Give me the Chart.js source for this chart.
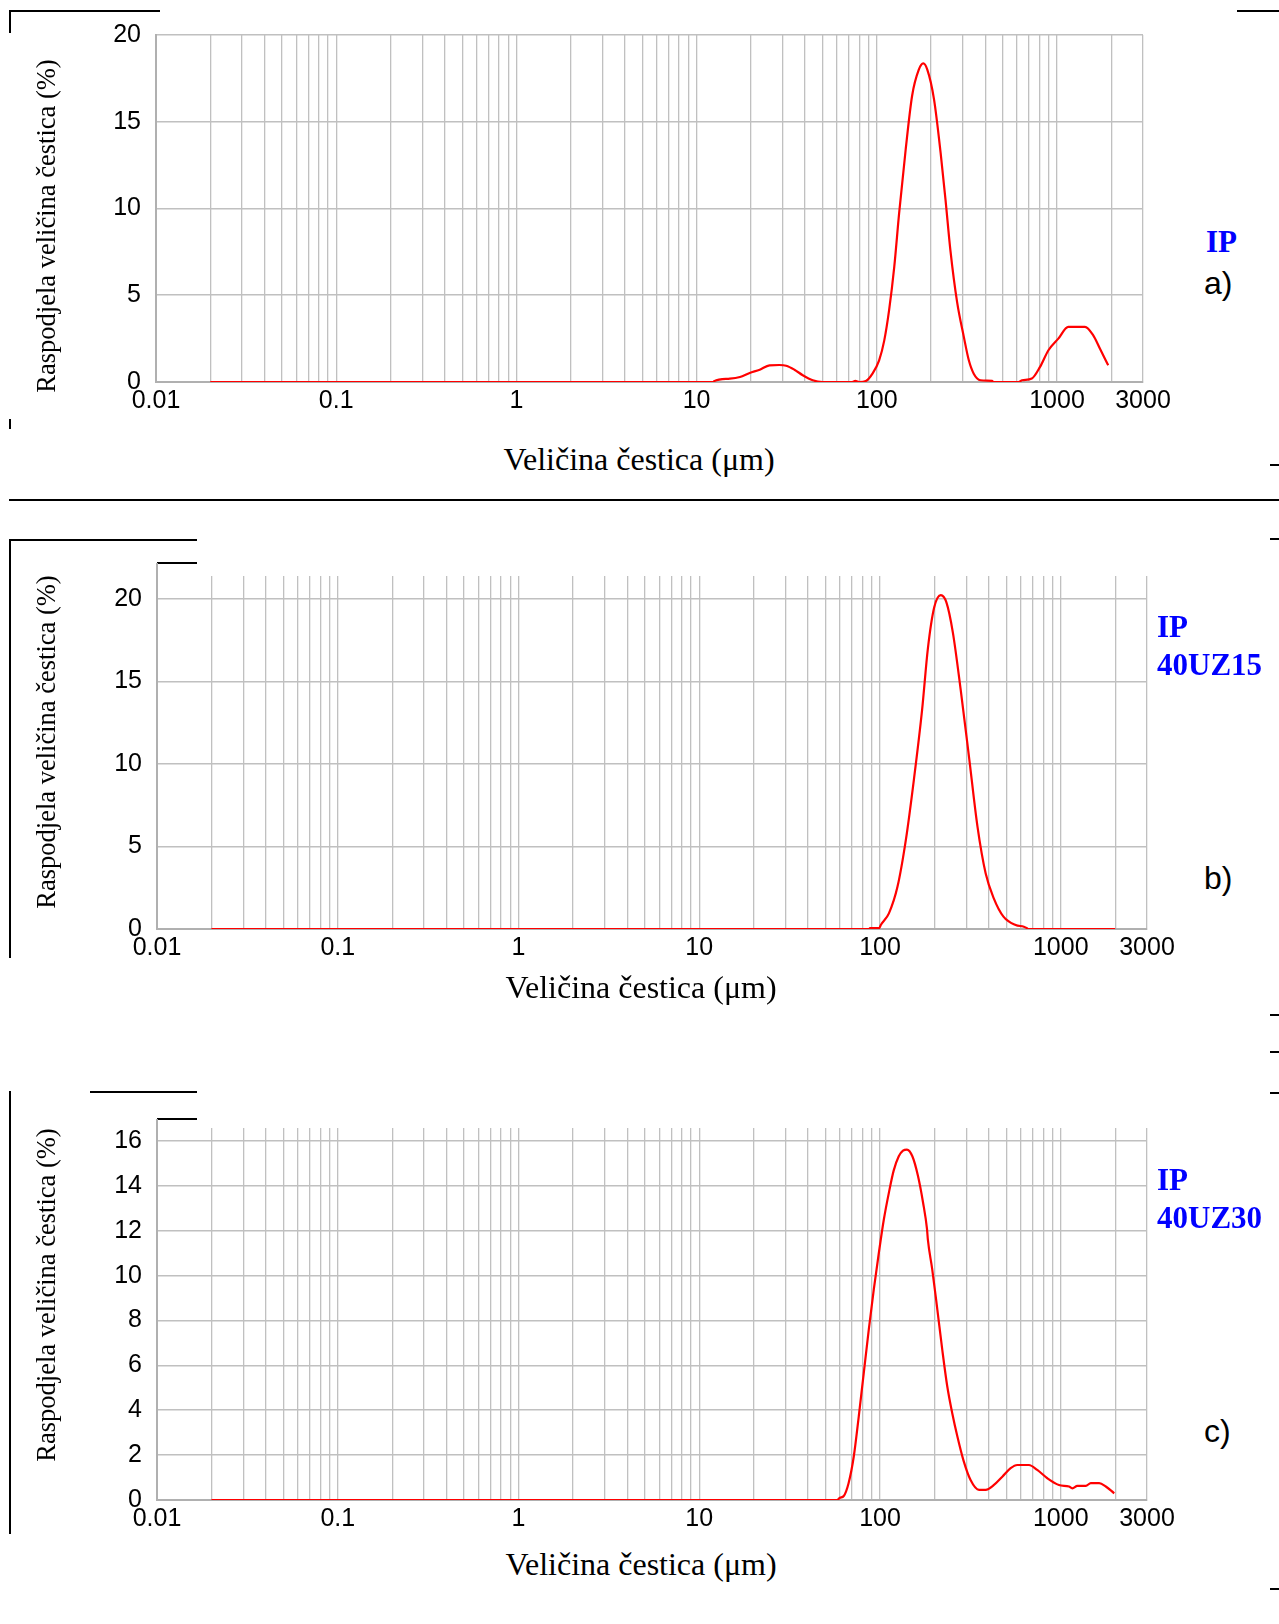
<!DOCTYPE html>
<html>
<head>
<meta charset="utf-8">
<script src="https://cdn.jsdelivr.net/npm/chart.js@4.4.1/dist/chart.umd.min.js"></script>
<style>
  html, body { margin: 0; padding: 0; background: #fff; }
  body { width: 1279px; height: 1624px; position: relative; overflow: hidden; }
  canvas { position: absolute; left: 0; }
  .ytitle, .xtitle, .tag, .letter { position: absolute; white-space: nowrap; color: #000; }
  .ytitle { font-family: 'Liberation Serif', serif; font-size: 26.5px; line-height: 26.5px;
            transform: translate(-50%, -50%) rotate(-90deg); }
  .xtitle { font-family: 'Liberation Serif', serif; font-size: 32px; line-height: 32px;
            transform: translate(-50%, -50%); }
  .tag { font-family: 'Liberation Serif', serif; font-weight: bold; font-size: 31px; line-height: 31px; color: #0000ff; }
  .letter { font-family: 'Liberation Sans', sans-serif; font-size: 32px; line-height: 32px; }
  .rule { position: absolute; background: #000; }
</style>
</head>
<body>
<canvas id="chartA"></canvas>
<canvas id="chartB"></canvas>
<canvas id="chartC"></canvas>

<div class="ytitle" style="left:46px; top:226px;">Raspodjela veličina čestica (%)</div>
<div class="ytitle" style="left:46px; top:742px;">Raspodjela veličina čestica (%)</div>
<div class="ytitle" style="left:46px; top:1295px;">Raspodjela veličina čestica (%)</div>
<div class="xtitle" style="left:639px; top:459px;">Veličina čestica (μm)</div>
<div class="xtitle" style="left:641px; top:987px;">Veličina čestica (μm)</div>
<div class="xtitle" style="left:641px; top:1564px;">Veličina čestica (μm)</div>

<div class="tag" style="left:1206px; top:226px;">IP</div>
<div class="letter" style="left:1204px; top:267px;">a)</div>
<div class="tag" style="left:1157px; top:611px;">IP</div>
<div class="tag" style="left:1157px; top:649px;">40UZ15</div>
<div class="letter" style="left:1204px; top:862px;">b)</div>
<div class="tag" style="left:1157px; top:1164px;">IP</div>
<div class="tag" style="left:1157px; top:1202px;">40UZ30</div>
<div class="letter" style="left:1204px; top:1415px;">c)</div>

<!-- leftover frame strokes from the source page -->
<div class="rule" style="left:9px; top:10px; width:151px; height:2px;"></div>
<div class="rule" style="left:9px; top:10px; width:1.5px; height:23px;"></div>
<div class="rule" style="left:9px; top:419px; width:1.5px; height:10px;"></div>
<div class="rule" style="left:1237px; top:10px; width:42px; height:2px;"></div>
<div class="rule" style="left:9px; top:499px; width:1270px; height:1.5px;"></div>
<div class="rule" style="left:1270px; top:464px; width:9px; height:1.5px;"></div>
<div class="rule" style="left:1270px; top:538px; width:9px; height:1.5px;"></div>
<div class="rule" style="left:9px; top:539px; width:188px; height:2px;"></div>
<div class="rule" style="left:9px; top:539px; width:1.5px; height:419px;"></div>
<div class="rule" style="left:157px; top:562px; width:40px; height:2px;"></div>
<div class="rule" style="left:1270px; top:1014px; width:9px; height:1.5px;"></div>
<div class="rule" style="left:1270px; top:1051px; width:9px; height:1.5px;"></div>
<div class="rule" style="left:1270px; top:1092px; width:9px; height:1.5px;"></div>
<div class="rule" style="left:90px; top:1091px; width:107px; height:2px;"></div>
<div class="rule" style="left:9px; top:1091px; width:1.5px; height:443px;"></div>
<div class="rule" style="left:157px; top:1118px; width:40px; height:2px;"></div>
<div class="rule" style="left:1270px; top:1588px; width:9px; height:1.5px;"></div>
<div class="rule" style="left:156px; top:563px; width:2px; height:14px; background:#b0b0b0;"></div>
<div class="rule" style="left:156px; top:1119px; width:2px; height:10px; background:#b0b0b0;"></div>

<script>
// particle size (um) and volume share (%)
const sizesA = [0.02, 12.4, 12.5, 15.3, 17.4, 19.7, 22.4, 25.4, 28.8, 31.4, 34.9, 38.8, 44.1, 50, 73, 76, 80,
  87, 94.6, 103, 110, 117, 125, 133, 144.6, 157, 171, 181, 190.6, 207.6, 226, 240.6, 256, 279, 304, 324,
  345, 376, 436, 445, 611, 640, 725, 805, 896, 1017, 1155, 1429, 1586, 1729, 1923];
const valuesA = [0, 0, 0.05, 0.19, 0.29, 0.52, 0.71, 0.96, 0.98, 0.94, 0.71, 0.39, 0.1, 0, 0, 0.06, 0,
  0.06, 0.48, 1.25, 2.4, 4.14, 6.65, 9.73, 13.4, 16.5, 18.0, 18.36, 18.0, 16.3, 13.2, 10.5, 7.6, 4.6, 2.6, 1.25,
  0.48, 0.1, 0.06, 0, 0, 0.1, 0.2, 0.87, 1.83, 2.5, 3.18, 3.18, 2.7, 1.93, 0.96];

const sizesB = [0.02, 87, 88, 99, 101, 112, 125, 139, 154, 171, 184, 199.5, 217, 233, 253, 281, 312,
  346, 384, 426, 482, 563, 625, 650, 659, 2000];
const valuesB = [0, 0, 0.05, 0.05, 0.24, 0.95, 2.57, 5.4, 9.06, 13.3, 17.0, 19.5, 20.24, 19.8, 17.97, 14.3, 10.27,
  6.22, 3.38, 1.86, 0.75, 0.24, 0.14, 0.05, 0, 0];

const sizesC = [0.02, 58, 60, 63, 67, 71.6, 76.3, 81.3, 86.7, 92.4, 98.6, 105, 112, 119, 127, 134, 141,
  151, 162, 173, 182, 184, 194.5, 207.5, 221, 235.5, 251, 268, 289, 317, 353, 384, 427, 475, 528, 575,
  667, 741, 843, 977, 1111, 1159, 1236, 1376, 1466, 1631, 1775, 1976];
const valuesC = [0, 0, 0.1, 0.18, 0.75, 1.94, 3.73, 5.66, 7.6, 9.39, 11.03, 12.5, 13.7, 14.68, 15.32, 15.57, 15.62,
  15.32, 14.46, 13.26, 12.07, 11.6, 10.28, 8.5, 6.7, 5.07, 3.87, 2.83, 1.79, 0.89, 0.45, 0.45, 0.67, 1.04, 1.42, 1.56,
  1.56, 1.34, 0.97, 0.67, 0.6, 0.52, 0.63, 0.63, 0.75, 0.75, 0.6, 0.3];

// axis ticks
const xTickLabels = ['0.01', '0.1', '1', '10', '100', '1000', '3000'];
const yTicksA = [0, 5, 10, 15, 20];
const yTicksB = [0, 5, 10, 15, 20];
const yTicksC = [0, 2, 4, 6, 8, 10, 12, 14, 16];

// vertical grid at 1..9 of every decade up to 3000
const gridSizes = [];
[0.01, 0.1, 1, 10, 100, 1000].forEach(d => {
  for (let m = 1; m <= 9; m++) {
    const v = Number((m * d).toPrecision(6));
    if (v <= 3000) gridSizes.push(v);
  }
});

const gridColor = '#c0c0c0';
const tickFont = { family: 'Liberation Sans', size: 25 };

function xLabel(v) {
  const hit = xTickLabels.find(l => Math.abs(parseFloat(l) / v - 1) < 1e-6);
  return hit || '';
}

// keep the plot box where it is in the figure, whatever the labels need
function noPad(s) {
  s.paddingTop = 0; s.paddingBottom = 0; s.paddingLeft = 0; s.paddingRight = 0;
}

function drawPanel(id, area, sizes, values, yMax, yTicks) {
  const cv = document.getElementById(id);
  const padTop = 20, padRight = 45, xAxisH = 45;
  cv.width = area.right + padRight;
  cv.height = area.bottom - area.top + padTop + xAxisH;
  cv.style.top = (area.top - padTop) + 'px';

  new Chart(cv, {
    type: 'line',
    data: {
      datasets: [{
        data: sizes.map((s, i) => ({ x: s, y: values[i] })),
        borderColor: '#ff0000',
        borderWidth: 2.2,
        pointRadius: 0,
        cubicInterpolationMode: 'monotone',
        fill: false
      }]
    },
    options: {
      responsive: false,
      animation: false,
      layout: { padding: { left: 0, top: padTop, right: padRight, bottom: 0 } },
      plugins: { legend: { display: false }, tooltip: { enabled: false } },
      scales: {
        x: {
          type: 'logarithmic',
          min: 0.01,
          max: 3000,
          afterBuildTicks: s => { s.ticks = gridSizes.map(v => ({ value: v })); },
          afterFit: s => { s.height = xAxisH; noPad(s); },
          grid: { color: gridColor, lineWidth: 1.3, drawTicks: false },
          border: { color: '#b0b0b0', width: 2 },
          ticks: {
            autoSkip: false, maxRotation: 0, minRotation: 0, padding: 4,
            color: '#000', font: tickFont,
            callback: v => xLabel(v)
          }
        },
        y: {
          min: 0,
          max: yMax,
          afterBuildTicks: s => { s.ticks = yTicks.map(v => ({ value: v })); },
          afterFit: s => { s.width = area.left; noPad(s); },
          grid: { color: gridColor, lineWidth: 1.6, drawTicks: false },
          border: { color: '#b0b0b0', width: 2 },
          ticks: {
            padding: 15, color: '#000', font: tickFont,
            callback: v => String(v)
          }
        }
      }
    }
  });
}

drawPanel('chartA', { left: 156, top: 35, right: 1143, bottom: 382 }, sizesA, valuesA, 20, yTicksA);
drawPanel('chartB', { left: 157, top: 576, right: 1147, bottom: 929 }, sizesB, valuesB, 21.4, yTicksB);
drawPanel('chartC', { left: 157, top: 1128, right: 1147, bottom: 1500 }, sizesC, valuesC, 16.58, yTicksC);
</script>
</body>
</html>
